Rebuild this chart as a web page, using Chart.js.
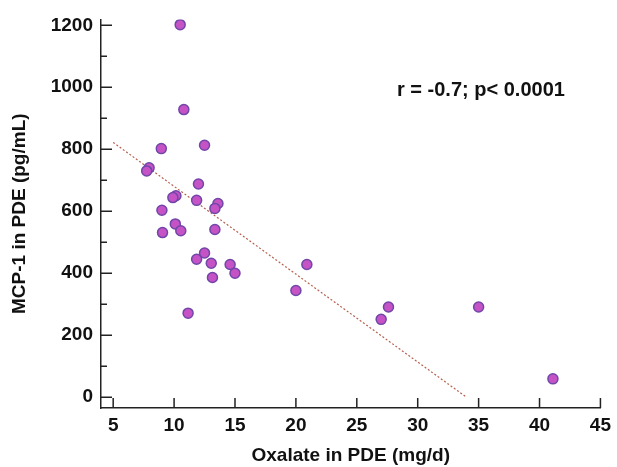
<!DOCTYPE html>
<html>
<head>
<meta charset="utf-8">
<script src="https://cdn.jsdelivr.net/npm/chart.js@4"></script>
<style>
  html, body { margin: 0; padding: 0; background: #fff; }
  #wrap { width: 617px; height: 467px; position: relative; }
</style>
</head>
<body>
<div id="wrap"><canvas id="chart" width="617" height="467"></canvas></div>
<script>
// oxalate (mg/d) vs MCP-1 (pg/mL)
const oxalate = [10.5, 10.8, 8.95, 12.5, 7.95, 7.75, 12.0, 10.15, 9.9, 11.85, 13.6, 13.35,
  9.0, 10.1, 10.55, 9.05, 13.35, 12.5, 11.85, 13.05, 14.6, 15.0, 13.15, 11.15,
  20.9, 20.0, 27.6, 27.0, 35.0, 41.1];
const mcp1 = [1202, 928, 802, 813, 740, 730, 688, 650, 644, 635, 625, 609,
  603, 559, 537, 531, 541, 465, 445, 432, 428, 400, 386, 271,
  428, 344, 291, 251, 291, 59];

// fitted line end points
const fitX = [5, 34];
const fitY = [822, 0];

const xTicks = [5, 10, 15, 20, 25, 30, 35, 40, 45];
const yTicks = [0, 200, 400, 600, 800, 1000, 1200];
const yMinorTicks = [100, 300, 500, 700, 900, 1100];

const statsText = "r = -0.7; p< 0.0001";

const FONT = "'Liberation Sans', Arial, sans-serif";

// ticks pointing inward, like the original figure
const innerTicks = {
  id: "innerTicks",
  afterDraw(chart) {
    const ctx = chart.ctx;
    const x = chart.scales.x;
    const y = chart.scales.y;
    ctx.save();
    ctx.strokeStyle = "#222";
    ctx.lineWidth = 1.5;
    ctx.beginPath();
    xTicks.forEach((v) => {
      const px = x.getPixelForValue(v);
      ctx.moveTo(px, x.top);
      ctx.lineTo(px, x.top - 10);
    });
    yTicks.forEach((v) => {
      const py = y.getPixelForValue(v);
      ctx.moveTo(y.right, py);
      ctx.lineTo(y.right + 11, py);
    });
    yMinorTicks.forEach((v) => {
      const py = y.getPixelForValue(v);
      ctx.moveTo(y.right, py);
      ctx.lineTo(y.right + 6, py);
    });
    ctx.stroke();

    ctx.fillStyle = "#111";
    ctx.font = "bold 20px " + FONT;
    ctx.textAlign = "left";
    ctx.textBaseline = "middle";
    ctx.fillText(statsText, 397, 90);
    ctx.restore();
  },
};

new Chart(document.getElementById("chart"), {
  type: "scatter",
  data: {
    datasets: [
      {
        type: "line",
        data: fitX.map((v, i) => ({ x: v, y: fitY[i] })),
        borderColor: "#b5604e",
        borderWidth: 1.2,
        borderDash: [2, 2],
        pointRadius: 0,
        fill: false,
        order: 2,
      },
      {
        data: oxalate.map((v, i) => ({ x: v, y: mcp1[i] })),
        backgroundColor: "#c653c6",
        borderColor: "#7046a8",
        borderWidth: 1.5,
        pointRadius: 5,
        order: 1,
      },
    ],
  },
  options: {
    responsive: false,
    animation: false,
    layout: { padding: { left: 0, right: 14, top: 0, bottom: 0 } },
    plugins: {
      legend: { display: false },
      tooltip: { enabled: false },
    },
    scales: {
      x: {
        type: "linear",
        min: 4,
        max: 45,
        afterBuildTicks: (scale) => {
          scale.ticks = xTicks.map((v) => ({ value: v }));
        },
        afterFit: (scale) => {
          scale.height = 59;
        },
        grid: { display: false, drawTicks: false },
        border: { display: true, color: "#222", width: 1.5 },
        ticks: {
          color: "#111",
          font: { family: FONT, size: 19, weight: "bold" },
          padding: 6,
          maxRotation: 0,
        },
        title: {
          display: true,
          text: "Oxalate in PDE (mg/d)",
          color: "#111",
          font: { family: FONT, size: 19, weight: "bold" },
          padding: { top: 0, bottom: 0 },
        },
      },
      y: {
        type: "linear",
        min: -35,
        max: 1219,
        afterBuildTicks: (scale) => {
          scale.ticks = yTicks.map((v) => ({ value: v }));
        },
        afterFit: (scale) => {
          scale.width = 101;
        },
        grid: { display: false, drawTicks: false },
        border: { display: true, color: "#222", width: 1.5 },
        ticks: {
          color: "#111",
          font: { family: FONT, size: 19, weight: "bold" },
          padding: 8,
          callback: (v) => String(v),
        },
        title: {
          display: true,
          text: "MCP-1 in PDE (pg/mL)",
          color: "#111",
          font: { family: FONT, size: 19, weight: "bold" },
          padding: { top: 8, bottom: 0 },
        },
      },
    },
  },
  plugins: [innerTicks],
});
</script>
</body>
</html>
